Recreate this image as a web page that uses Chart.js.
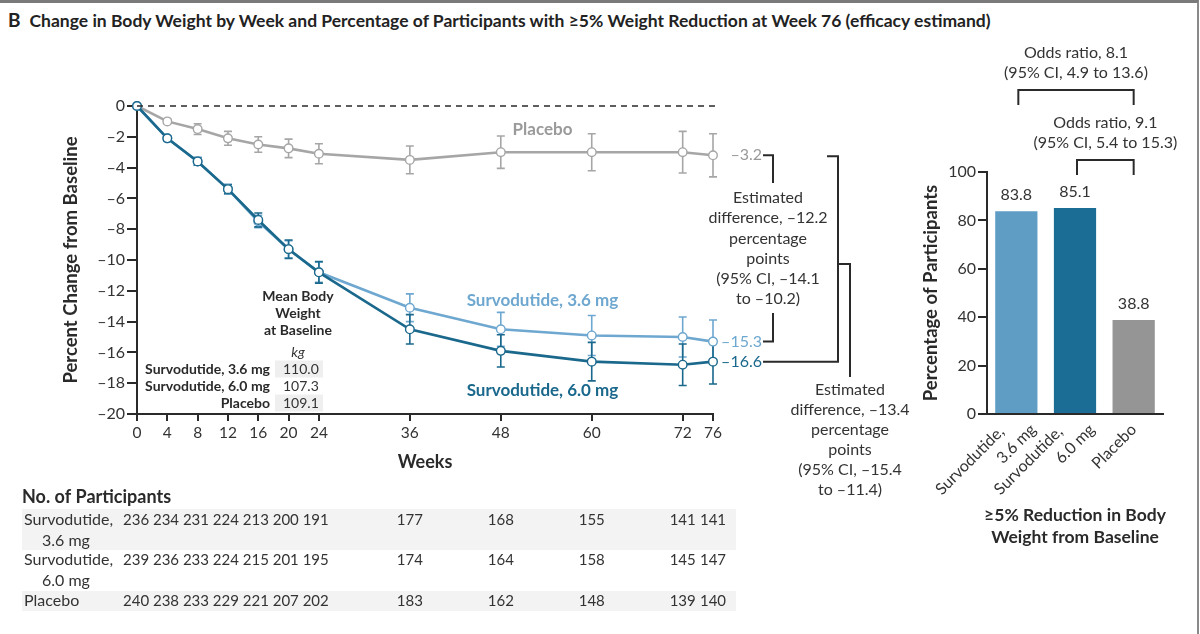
<!DOCTYPE html>
<html lang="en">
<head>
<meta charset="UTF-8">
<title>Change in Body Weight by Week</title>
<script src="https://cdn.jsdelivr.net/npm/chart.js@4.4.1/dist/chart.umd.min.js"></script>
<style>
  * {box-sizing:border-box;margin:0;padding:0;}
  body {width:1200px;height:634px;background:#fff;overflow:hidden;position:relative;font-family:Lato,sans-serif;color:#222;}
  .frame {position:absolute;left:0;top:0;width:1199px;height:634px;border-top:3px solid #7a7a7a;border-right:2px solid #8a8a8a;pointer-events:none;z-index:5;}
  h1 {position:absolute;left:8px;top:8px;font-size:17.5px;font-weight:700;white-space:nowrap;color:#222;}
  h1 span {font-size:19px;margin-right:9px;}
  #lineWrap {position:absolute;left:0;top:0;width:930px;height:634px;}
  #barWrap {position:absolute;left:920px;top:0;width:280px;height:634px;}
</style>
</head>
<body>
  <div class="frame"></div>
  <h1><span>B</span>Change in Body Weight by Week and Percentage of Participants with ≥5% Weight Reduction at Week 76 (efficacy estimand)</h1>
  <div id="lineWrap"><canvas id="lineChart"></canvas></div>
  <div id="barWrap"><canvas id="barChart"></canvas></div>
<script>
// weeks and mean percent change
const weeks = [0, 4, 8, 12, 16, 20, 24, 36, 48, 60, 72, 76];
const placeboChange = [0, -1.0, -1.5, -2.1, -2.5, -2.75, -3.1, -3.5, -3.0, -3.0, -3.0, -3.2];
const placeboErr    = [0, 0.15, 0.35, 0.45, 0.5, 0.6, 0.65, 0.9, 1.05, 1.2, 1.35, 1.4];
const sv36Change = [0, -2.1, -3.6, -5.4, -7.5, -9.3, -10.8, -13.1, -14.5, -14.9, -15.0, -15.3];
const sv36Err    = [0, 0.15, 0.25, 0.3, 0.4, 0.55, 0.65, 0.9, 1.1, 1.3, 1.3, 1.4];
const sv60Change = [0, -2.1, -3.6, -5.4, -7.4, -9.3, -10.8, -14.5, -15.9, -16.6, -16.8, -16.6];
const sv60Err    = [0, 0.15, 0.25, 0.3, 0.45, 0.6, 0.7, 0.95, 1.05, 1.25, 1.35, 1.45];
const yTickStep = 2;

// participants at each week
const nSv36    = [236, 234, 231, 224, 213, 200, 191, 177, 168, 155, 141, 141];
const nSv60    = [239, 236, 233, 224, 215, 201, 195, 174, 164, 158, 145, 147];
const nPlacebo = [240, 238, 233, 229, 221, 207, 202, 183, 162, 148, 139, 140];

// baseline weight, kg
const baselineGroups = ['Survodutide, 3.6 mg', 'Survodutide, 6.0 mg', 'Placebo'];
const baselineKg = ['110.0', '107.3', '109.1'];

// >=5% reduction bar panel
const barLabels = [['Survodutide,', '3.6 mg'], ['Survodutide,', '6.0 mg'], ['Placebo']];
const barValues = [83.8, 85.1, 38.8];
const barTicks = [0, 20, 40, 60, 80, 100];

const cLight = '#6ea7cf', cDark = '#1a688c', cGray = '#a6a6a6';
const barColors = ['#5f9dc5', '#1b6d95', '#959595'];
const ink = '#2a2a2a';

Chart.defaults.font.family = "Lato, 'Open Sans', sans-serif";
Chart.defaults.color = '#333';

const dash = s => String(s).replace('-', '\u2013');
const pts = vals => weeks.map((w, i) => ({x: w, y: vals[i]}));

function txt(ctx, s, x, y, opt){
  ctx.font = opt.font; ctx.fillStyle = opt.color || '#333';
  ctx.textAlign = opt.align || 'center'; ctx.textBaseline = 'middle';
  ctx.fillText(s, x, y);
}
function path(ctx, p){
  ctx.beginPath(); ctx.moveTo(p[0][0], p[0][1]);
  for(let i=1;i<p.length;i++) ctx.lineTo(p[i][0], p[i][1]);
  ctx.stroke();
}

const errorBars = {
  id:'errorBars',
  beforeDatasetsDraw(chart){
    const {ctx, scales:{x, y}} = chart;
    const sets = [[placeboChange, placeboErr, cGray], [sv36Change, sv36Err, cLight], [sv60Change, sv60Err, cDark]];
    ctx.save(); ctx.lineWidth = 1.6;
    sets.forEach(([vals, errs, col]) => {
      ctx.strokeStyle = col;
      weeks.forEach((w, i) => {
        if(!errs[i]) return;
        const px = x.getPixelForValue(w);
        const t = y.getPixelForValue(vals[i] + errs[i]), b = y.getPixelForValue(vals[i] - errs[i]);
        ctx.beginPath();
        ctx.moveTo(px, t); ctx.lineTo(px, b);
        ctx.moveTo(px-4, t); ctx.lineTo(px+4, t);
        ctx.moveTo(px-4, b); ctx.lineTo(px+4, b);
        ctx.stroke();
      });
    });
    ctx.restore();
  }
};

const lineNotes = {
  id:'lineNotes',
  afterDraw(chart){
    const {ctx, scales:{x, y}} = chart;
    const reg = '15px Lato', note = '16px Lato', bold = 'bold 17px Lato';
    ctx.save();
    // zero reference line
    ctx.strokeStyle = ink; ctx.lineWidth = 1.6; ctx.setLineDash([6, 5]);
    path(ctx, [[x.getPixelForValue(0), y.getPixelForValue(0)], [x.getPixelForValue(76) + 6, y.getPixelForValue(0)]]);
    ctx.setLineDash([]);

    // series names
    const mx = x.getPixelForValue(53.5);
    txt(ctx, 'Placebo', mx, y.getPixelForValue(-1.55), {font:bold, color:'#9a9a9a'});
    txt(ctx, 'Survodutide, 3.6 mg', mx, y.getPixelForValue(-12.6), {font:bold, color:cLight});
    txt(ctx, 'Survodutide, 6.0 mg', mx, y.getPixelForValue(-18.45), {font:bold, color:cDark});

    // end values
    const ex = x.getPixelForValue(76) + 49, last = weeks.length - 1;
    txt(ctx, dash(placeboChange[last].toFixed(1)), ex, y.getPixelForValue(placeboChange[last]), {font:note, color:'#999', align:'right'});
    txt(ctx, dash(sv36Change[last].toFixed(1)), ex, y.getPixelForValue(sv36Change[last]), {font:note, color:cLight, align:'right'});
    txt(ctx, dash(sv60Change[last].toFixed(1)), ex, y.getPixelForValue(sv60Change[last]), {font:note, color:cDark, align:'right'});

    // difference brackets
    const yP = y.getPixelForValue(placeboChange[last]), y36 = y.getPixelForValue(sv36Change[last]), y60 = y.getPixelForValue(sv60Change[last]);
    ctx.strokeStyle = ink; ctx.lineWidth = 2;
    path(ctx, [[ex+1, yP], [773, yP], [773, 183]]);
    path(ctx, [[773, 313], [773, y36], [ex+1, y36]]);
    path(ctx, [[827, yP+1], [838, yP+1], [838, y60], [ex+1, y60]]);
    path(ctx, [[838, 264], [850, 264], [850, 377]]);
    const d1 = ['Estimated', 'difference, \u201312.2', 'percentage', 'points', '(95% CI, \u201314.1', 'to \u201310.2)'];
    const d2 = ['Estimated', 'difference, \u201313.4', 'percentage', 'points', '(95% CI, \u201315.4', 'to \u201311.4)'];
    d1.forEach((s, i) => txt(ctx, s, 768, 198 + i*20.2, {font:note}));
    d2.forEach((s, i) => txt(ctx, s, 850, 390 + i*20, {font:note}));

    // baseline weight inset
    const bx = 298, bf = 'bold 14px Lato';
    ['Mean Body', 'Weight', 'at Baseline'].forEach((s, i) => txt(ctx, s, bx, 296 + i*17, {font:bf, color:ink}));
    txt(ctx, 'kg', bx, 352, {font:'italic 14px Lato'});
    baselineGroups.forEach((g, i) => {
      const ry = 369 + i*17;
      if(i !== 1){ ctx.fillStyle = '#efefef'; ctx.fillRect(275, ry-8.5, 48, 17); }
      txt(ctx, g, 270, ry, {font:bf, color:ink, align:'right'});
      txt(ctx, baselineKg[i], 283, ry, {font:'14px Lato', align:'left'});
    });

    // number at risk table
    txt(ctx, 'No. of Participants', 22, 497, {font:'bold 18px Lato', color:ink, align:'left'});
    ctx.fillStyle = '#f3f3f3';
    ctx.fillRect(22, 509, 714, 41);
    ctx.fillRect(22, 591, 714, 20);
    const rows = [[['Survodutide,', '3.6 mg'], nSv36, 520], [['Survodutide,', '6.0 mg'], nSv60, 560], [['Placebo'], nPlacebo, 601]];
    rows.forEach(([lab, n, ry]) => {
      txt(ctx, lab[0], 24, ry, {font:note, align:'left'});
      if(lab[1]) txt(ctx, lab[1], 42, ry + 21, {font:note, align:'left'});
      txt(ctx, n.slice(0, 7).join(' '), 123, ry, {font:reg, align:'left'});
      weeks.forEach((w, i) => { if(i >= 7) txt(ctx, String(n[i]), x.getPixelForValue(w), ry, {font:reg}); });
    });
    ctx.restore();
  }
};

const ptStyle = col => ({borderColor:col, backgroundColor:'#fff', pointBackgroundColor:'#fff', pointBorderColor:col,
  pointRadius:4.3, pointBorderWidth:1.4, borderWidth:2.6, tension:0, clip:false});

new Chart(document.getElementById('lineChart'), {
  type:'line',
  data:{datasets:[
    Object.assign({label:'Survodutide, 6.0 mg', data:pts(sv60Change)}, ptStyle(cDark)),
    Object.assign({label:'Survodutide, 3.6 mg', data:pts(sv36Change)}, ptStyle(cLight)),
    Object.assign({label:'Placebo', data:pts(placeboChange)}, ptStyle(cGray))
  ]},
  options:{
    responsive:true, maintainAspectRatio:false, animation:false,
    layout:{padding:{left:0, top:106, right:217, bottom:160}},
    plugins:{legend:{display:false}, tooltip:{enabled:false}},
    scales:{
      x:{type:'linear', min:0, max:76,
        afterBuildTicks:s => { s.ticks = weeks.map(v => ({value:v})); },
        afterFit:s => { s.height = 60; },
        grid:{drawOnChartArea:false, color:ink, lineWidth:2, tickLength:7},
        border:{color:ink, width:2},
        ticks:{font:{size:15.5}, color:'#333', padding:3, maxRotation:0, autoSkip:false},
        title:{display:true, text:'Weeks', font:{size:18, weight:'bold'}, color:ink, padding:{top:0, bottom:1}}
      },
      y:{min:-20, max:0,
        afterFit:s => { s.width = 137; },
        grid:{drawOnChartArea:false, color:ink, lineWidth:2, tickLength:10},
        border:{color:ink, width:2},
        ticks:{stepSize:yTickStep, font:{size:16}, color:'#333', padding:2, callback:v => dash(v)},
        title:{display:true, text:'Percent Change from Baseline', font:{size:18.5, weight:'bold'}, color:ink, padding:{top:60, bottom:0}}
      }
    }
  },
  plugins:[errorBars, lineNotes]
});

const barNotes = {
  id:'barNotes',
  afterDraw(chart){
    const {ctx, chartArea} = chart;
    const bars = chart.getDatasetMeta(0).data;
    const reg = '16px Lato';
    ctx.save();
    bars.forEach((b, i) => txt(ctx, barValues[i].toFixed(1), b.x, b.y - 16, {font:reg}));
    // slanted category labels
    bars.forEach((b, i) => {
      const lines = barLabels[i];
      const ends = lines.length > 1 ? [[-15, 15], [17, 13]] : [[0, 13]];
      lines.forEach((s, k) => {
        ctx.save();
        ctx.translate(b.x + ends[k][0], chartArea.bottom + ends[k][1]);
        ctx.rotate(-Math.PI / 4);
        txt(ctx, s, 0, 0, {font:reg, align:'right'});
        ctx.restore();
      });
    });
    // odds ratio brackets
    const odds = [[0, 2, 90, ['Odds ratio, 8.1', '(95% CI, 4.9 to 13.6)']], [1, 2, 160, ['Odds ratio, 9.1', '(95% CI, 5.4 to 15.3)']]];
    ctx.strokeStyle = ink; ctx.lineWidth = 2;
    odds.forEach(([a, c, by, lines]) => {
      const xa = bars[a].x + 2, xc = bars[c].x;
      path(ctx, [[xa, by + 15], [xa, by], [xc, by], [xc, by + 15]]);
      lines.forEach((s, i) => txt(ctx, s, (xa + xc) / 2, by - 37 + i*19.5, {font:reg}));
    });
    const cx = (chartArea.left + chartArea.right) / 2;
    txt(ctx, '\u22655% Reduction in Body', cx, 515, {font:'bold 17.5px Lato', color:ink});
    txt(ctx, 'Weight from Baseline', cx, 537, {font:'bold 17.5px Lato', color:ink});
    ctx.restore();
  }
};

new Chart(document.getElementById('barChart'), {
  type:'bar',
  data:{labels:barLabels, datasets:[{data:barValues, backgroundColor:barColors, barPercentage:0.72, categoryPercentage:1}]},
  options:{
    responsive:true, maintainAspectRatio:false, animation:false,
    layout:{padding:{left:0, top:172, right:37, bottom:70}},
    plugins:{legend:{display:false}, tooltip:{enabled:false}},
    scales:{
      x:{afterFit:s => { s.height = 150; },
        grid:{display:false}, border:{color:ink, width:2},
        ticks:{display:false}
      },
      y:{min:0, max:100,
        afterBuildTicks:s => { s.ticks = barTicks.map(v => ({value:v})); },
        afterFit:s => { s.width = 67; },
        grid:{drawOnChartArea:false, color:ink, lineWidth:2, tickLength:9},
        border:{color:ink, width:2},
        ticks:{font:{size:16}, color:'#333', padding:2},
        title:{display:true, text:'Percentage of Participants', font:{size:18.5, weight:'bold'}, color:ink, padding:{top:0, bottom:0}}
      }
    }
  },
  plugins:[barNotes]
});
</script>
</body>
</html>
